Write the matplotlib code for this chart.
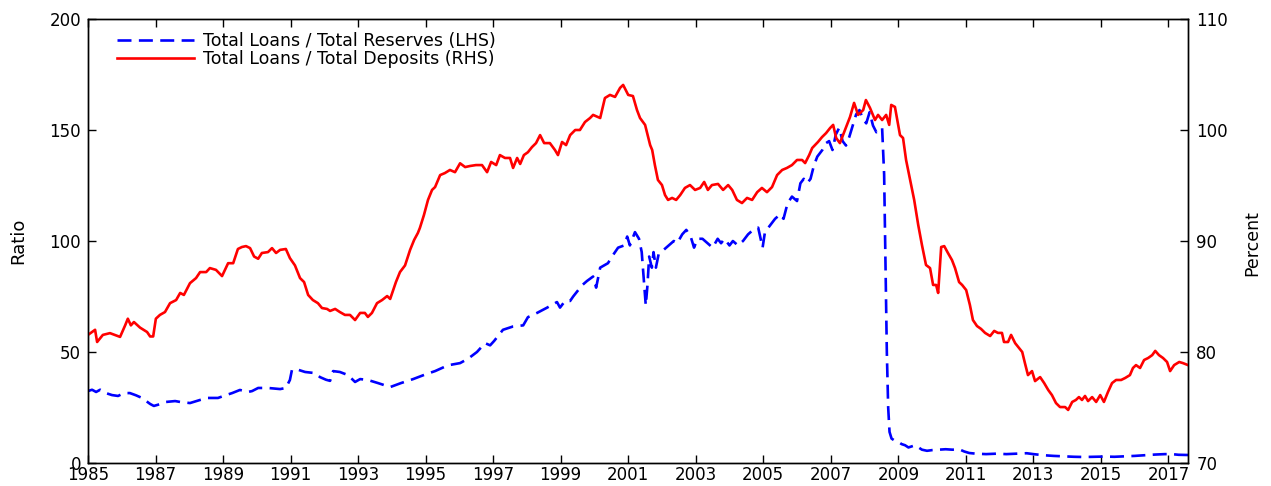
import matplotlib
matplotlib.use("Agg")
import matplotlib.pyplot as plt

plt.rcParams['font.family'] = ['DejaVu Sans']

# Total Loans / Total Deposits, percent (right axis)
red_years = [
    1985.00, 1985.21, 1985.27, 1985.44, 1985.65, 1985.95, 1986.10, 1986.18, 1986.27, 1986.36,
    1986.54, 1986.75, 1986.84, 1986.93, 1987.01, 1987.13, 1987.28, 1987.43, 1987.61, 1987.73,
    1987.84, 1988.02, 1988.20, 1988.32, 1988.50, 1988.61, 1988.79, 1988.97, 1989.15, 1989.30,
    1989.44, 1989.56, 1989.68, 1989.80, 1989.92, 1990.04, 1990.15, 1990.33, 1990.45, 1990.57,
    1990.69, 1990.86, 1990.98, 1991.13, 1991.28, 1991.40, 1991.52, 1991.66, 1991.81, 1991.93,
    1992.08, 1992.17, 1992.32, 1992.46, 1992.61, 1992.76, 1992.91, 1993.06, 1993.20, 1993.29,
    1993.41, 1993.56, 1993.71, 1993.86, 1993.95, 1994.12, 1994.24, 1994.39, 1994.54, 1994.66,
    1994.77, 1994.83, 1994.95, 1995.07, 1995.19, 1995.28, 1995.43, 1995.57, 1995.72, 1995.87,
    1996.02, 1996.17, 1996.32, 1996.49, 1996.67, 1996.82, 1996.94, 1997.09, 1997.20, 1997.35,
    1997.50, 1997.59, 1997.71, 1997.80, 1997.91, 1998.03, 1998.15, 1998.27, 1998.39, 1998.51,
    1998.68, 1998.83, 1998.92, 1999.04, 1999.16, 1999.28, 1999.43, 1999.57, 1999.72, 1999.87,
    1999.96, 2000.17, 2000.31, 2000.46, 2000.61, 2000.76, 2000.85, 2001.00, 2001.14, 2001.26,
    2001.35, 2001.50, 2001.65, 2001.71, 2001.79, 2001.88, 2002.00, 2002.09, 2002.18, 2002.30,
    2002.42, 2002.54, 2002.68, 2002.83, 2002.98, 2003.13, 2003.25, 2003.36, 2003.48, 2003.66,
    2003.81, 2003.96, 2004.08, 2004.22, 2004.37, 2004.52, 2004.67, 2004.82, 2004.96, 2005.11,
    2005.26, 2005.41, 2005.56, 2005.70, 2005.85, 2006.00, 2006.15, 2006.24, 2006.36, 2006.45,
    2006.62, 2006.74, 2006.86, 2006.98, 2007.07, 2007.16, 2007.27, 2007.42, 2007.57, 2007.69,
    2007.81, 2007.96, 2008.04, 2008.16, 2008.31, 2008.40, 2008.52, 2008.64, 2008.73, 2008.79,
    2008.90, 2009.05, 2009.14, 2009.23, 2009.35, 2009.47, 2009.59, 2009.70, 2009.82, 2009.94,
    2010.03, 2010.12, 2010.18, 2010.27, 2010.36, 2010.47, 2010.59, 2010.68, 2010.80, 2010.89,
    2011.01, 2011.12, 2011.21, 2011.33, 2011.45, 2011.57, 2011.72, 2011.84, 2011.95, 2012.07,
    2012.13, 2012.25, 2012.34, 2012.46, 2012.55, 2012.67, 2012.75, 2012.84, 2012.96, 2013.05,
    2013.20, 2013.32, 2013.44, 2013.55, 2013.67, 2013.79, 2013.94, 2014.03, 2014.15, 2014.26,
    2014.35, 2014.44, 2014.53, 2014.62, 2014.74, 2014.86, 2014.98, 2015.09, 2015.21, 2015.33,
    2015.45, 2015.60, 2015.72, 2015.86, 2015.95, 2016.04, 2016.16, 2016.28, 2016.40, 2016.52,
    2016.61, 2016.72, 2016.84, 2016.96, 2017.05, 2017.17, 2017.32, 2017.43, 2017.58,
]
red_pct = [
    81.54, 82.00, 80.90, 81.54, 81.70, 81.36, 82.40, 83.00, 82.40, 82.70,
    82.20, 81.80, 81.40, 81.40, 83.00, 83.34, 83.60, 84.40, 84.68, 85.32,
    85.14, 86.20, 86.66, 87.20, 87.20, 87.56, 87.40, 86.84, 88.00, 88.00,
    89.28, 89.46, 89.54, 89.36, 88.60, 88.40, 88.92, 89.00, 89.36, 88.92,
    89.20, 89.28, 88.46, 87.80, 86.66, 86.30, 85.14, 84.68, 84.40, 83.96,
    83.88, 83.70, 83.88, 83.60, 83.34, 83.34, 82.88, 83.52, 83.52, 83.16,
    83.52, 84.40, 84.68, 85.04, 84.78, 86.30, 87.20, 87.80, 89.20, 90.10,
    90.72, 91.18, 92.34, 93.70, 94.60, 94.86, 95.94, 96.12, 96.40, 96.20,
    97.00, 96.66, 96.76, 96.84, 96.84, 96.20, 97.12, 96.84, 97.74, 97.48,
    97.48, 96.58, 97.48, 96.94, 97.74, 98.00, 98.46, 98.82, 99.54, 98.82,
    98.82, 98.20, 97.74, 98.92, 98.64, 99.54, 100.00, 100.00, 100.72, 101.08,
    101.36, 101.08, 102.88, 103.16, 102.98, 103.80, 104.06, 103.16, 103.06, 101.80,
    101.08, 100.46, 98.64, 98.20, 96.84, 95.50, 95.04, 94.14, 93.70, 93.88,
    93.70, 94.14, 94.78, 95.04, 94.60, 94.78, 95.32, 94.60, 95.04, 95.14,
    94.60, 95.04, 94.60, 93.70, 93.42, 93.88, 93.70, 94.40, 94.78, 94.40,
    94.86, 95.94, 96.40, 96.58, 96.84, 97.30, 97.30, 97.02, 97.74, 98.38,
    98.92, 99.36, 99.72, 100.18, 100.46, 99.28, 98.82, 100.00, 101.18, 102.44,
    101.36, 101.80, 102.70, 102.00, 100.90, 101.36, 100.90, 101.36, 100.46, 102.26,
    102.08, 99.54, 99.28, 97.30, 95.50, 93.70, 91.44, 89.64, 87.84, 87.56,
    86.04, 86.04, 85.32, 89.46, 89.54, 88.92, 88.28, 87.56, 86.30, 86.04,
    85.58, 84.24, 82.88, 82.34, 82.08, 81.72, 81.44, 81.90, 81.72, 81.72,
    80.90, 80.90, 81.54, 80.80, 80.46, 80.00, 79.00, 77.92, 78.28, 77.38,
    77.74, 77.20, 76.58, 76.12, 75.40, 75.04, 75.04, 74.78, 75.50, 75.68,
    75.94, 75.68, 76.04, 75.58, 75.94, 75.50, 76.12, 75.50, 76.40, 77.20,
    77.48, 77.48, 77.66, 77.92, 78.56, 78.82, 78.56, 79.28, 79.46, 79.72,
    80.10, 79.72, 79.46, 79.10, 78.28, 78.82, 79.10, 79.00, 78.82,
]

# Total Loans / Total Reserves, ratio (left axis)
blue_years = [
    1985.00, 1985.12, 1985.24, 1985.36, 1985.53, 1985.71, 1985.89, 1986.07, 1986.24, 1986.42,
    1986.60, 1986.84, 1986.95, 1987.13, 1987.31, 1987.58, 1987.73, 1988.02, 1988.32, 1988.55,
    1988.85, 1989.09, 1989.27, 1989.50, 1989.74, 1989.86, 1990.04, 1990.33, 1990.69, 1990.86,
    1990.98, 1991.04, 1991.16, 1991.43, 1991.72, 1991.87, 1992.05, 1992.17, 1992.26, 1992.46,
    1992.70, 1992.91, 1993.06, 1993.29, 1993.59, 1993.95, 1994.27, 1994.63, 1995.01, 1995.28,
    1995.66, 1996.02, 1996.26, 1996.52, 1996.76, 1996.91, 1997.03, 1997.29, 1997.59, 1997.89,
    1998.03, 1998.30, 1998.60, 1998.89, 1998.98, 1999.13, 1999.28, 1999.37, 1999.63, 1999.78,
    1999.96, 2000.05, 2000.17, 2000.40, 2000.52, 2000.70, 2000.88, 2000.97, 2001.05, 2001.20,
    2001.32, 2001.40, 2001.45, 2001.52, 2001.57, 2001.62, 2001.70, 2001.75, 2001.82, 2001.90,
    2002.05, 2002.20, 2002.35, 2002.45, 2002.60, 2002.72, 2002.85, 2002.95, 2003.05, 2003.20,
    2003.35, 2003.50, 2003.65, 2003.75, 2003.85, 2004.00, 2004.10, 2004.25, 2004.40, 2004.55,
    2004.70, 2004.85, 2004.98, 2005.05, 2005.20, 2005.35, 2005.50, 2005.60, 2005.72, 2005.85,
    2006.00, 2006.10, 2006.20, 2006.30, 2006.40, 2006.50, 2006.60, 2006.75, 2006.85, 2006.95,
    2007.05, 2007.15, 2007.25, 2007.35, 2007.45, 2007.55, 2007.65, 2007.75, 2007.85, 2007.95,
    2008.05, 2008.15, 2008.25, 2008.35, 2008.45, 2008.52, 2008.58, 2008.62, 2008.66, 2008.70,
    2008.74, 2008.80, 2008.90, 2009.00, 2009.10, 2009.20, 2009.30, 2009.40, 2009.50, 2009.60,
    2009.70, 2009.85, 2010.00, 2010.20, 2010.40, 2010.60, 2010.80, 2010.95, 2011.10, 2011.30,
    2011.60, 2011.90, 2012.20, 2012.50, 2012.80, 2013.00, 2013.30, 2013.60, 2013.90, 2014.20,
    2014.50, 2014.80, 2015.10, 2015.40, 2015.70, 2016.00, 2016.30, 2016.60, 2016.90, 2017.10,
    2017.30, 2017.58,
]
blue_ratio = [
    32.4, 33.0, 32.0, 33.0, 31.5, 30.6, 30.2, 31.5, 31.5, 30.5,
    29.3, 26.6, 25.7, 26.5, 27.5, 27.9, 27.5, 27.0, 28.4, 29.3,
    29.3, 30.6, 31.5, 32.9, 32.0, 32.4, 33.8, 33.8, 33.3, 33.8,
    37.4, 41.9, 42.3, 41.0, 40.5, 38.7, 37.5, 37.0, 41.4, 41.0,
    39.6, 36.5, 37.8, 37.4, 36.0, 34.2, 36.0, 37.8, 40.0, 41.4,
    44.0, 45.0, 47.0, 50.0, 54.0, 53.0, 55.0, 60.0, 61.5, 62.0,
    65.7, 67.6, 70.0, 72.5, 70.0, 73.0, 73.0, 75.0, 80.0, 82.0,
    84.0, 79.0, 88.0, 90.0, 93.0, 97.0, 98.0, 102.0, 98.0, 104.0,
    101.0, 95.0, 85.0, 71.0, 80.0, 93.0, 88.0, 95.0, 88.0, 94.0,
    96.0, 98.0, 100.0, 99.0, 103.0, 105.0, 102.0, 97.0, 101.0, 101.0,
    99.0, 97.0, 101.0, 99.0, 101.0, 98.0, 100.0, 98.0, 100.0, 103.0,
    105.0, 106.0, 97.0, 104.0, 107.0, 110.0, 112.0, 110.0, 117.0, 120.0,
    118.0, 126.0, 128.0, 126.0, 128.0, 134.0, 138.0, 141.0, 144.0, 145.0,
    141.0, 148.0, 151.0, 145.0, 143.0, 147.0, 152.0, 157.0, 159.0, 155.0,
    153.0, 158.0, 152.0, 149.0, 150.0, 151.0, 130.0, 90.0, 50.0, 25.0,
    14.0, 11.0, 10.0, 9.5, 8.5, 8.0, 7.0, 7.5, 8.0, 7.0,
    6.0, 5.5, 5.8, 6.0, 6.2, 6.0, 6.2, 5.2, 4.5, 4.2,
    4.0, 4.2, 4.0, 4.2, 4.4, 4.0, 3.5, 3.2, 3.0, 2.8,
    2.7, 2.8, 2.9, 2.8, 3.0, 3.2, 3.5, 3.8, 4.0, 4.0,
    3.7, 3.6,
]

year_ticks = list(range(1985, 2018, 2))
left_ticks = [0, 50, 100, 150, 200]
right_ticks = [70, 80, 90, 100, 110]

fig = plt.figure(figsize=(12.71, 4.86), dpi=100)
ax = fig.add_axes([88 / 1271, 23 / 486, 1100 / 1271, 444 / 486])
ax2 = ax.twinx()

l1, = ax.plot(blue_years, blue_ratio, color='#0000ff', lw=1.9, dashes=(5.3, 2.8),
              label='Total Loans / Total Reserves (LHS)')
l2, = ax2.plot(red_years, red_pct, color='#ff0000', lw=1.9,
               label='Total Loans / Total Deposits (RHS)')

ax.set_xlim(1985, 2017.58)
ax.set_ylim(0, 200)
ax2.set_ylim(70, 110)
ax.set_xticks(year_ticks)
ax.set_yticks(left_ticks)
ax2.set_yticks(right_ticks)

ax.tick_params(axis='x', direction='in', top=True, length=6, width=1, pad=2.5, labelsize=12)
ax.tick_params(axis='y', direction='in', right=False, length=6, width=1, pad=5, labelsize=12)
ax2.tick_params(axis='y', direction='in', length=6, width=1, pad=6, labelsize=12)
for a in (ax, ax2):
    for s in a.spines.values():
        s.set_linewidth(1.0)

fig.text(18 / 1271, 1 - 241 / 486, 'Ratio', rotation=90, ha='center', va='center', fontsize=13)
fig.text(1252 / 1271, 1 - 243 / 486, 'Percent', rotation=90, ha='center', va='center', fontsize=12.5)

ax2.legend(handles=[l1, l2], loc='upper left', bbox_to_anchor=(0.026, 0.970),
           frameon=False, fontsize=12.5, handlelength=4.45, handletextpad=0.55,
           labelspacing=0.0, borderpad=0, borderaxespad=0)

fig.savefig('out.png', dpi=100)
